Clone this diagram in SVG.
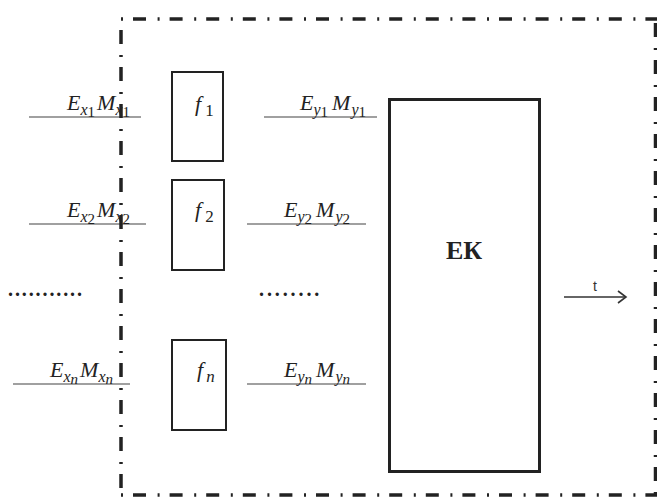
<svg xmlns="http://www.w3.org/2000/svg" width="657" height="497" viewBox="0 0 657 497">
<defs>
<style>
.lbl{font-family:"Liberation Serif","Times New Roman",serif;font-style:italic;font-size:22px;fill:#222}
.s{font-size:16px}
.ss{font-size:15px}
.d{font-style:normal}
.line{stroke:#808080;stroke-width:1.5;fill:none}
.box{fill:#fff;stroke:#222;stroke-width:2}
.frameh{stroke:#222;stroke-width:3.5;fill:none;stroke-dasharray:2 10 13 11.6}
.framev{stroke:#222;stroke-width:3.5;fill:none;stroke-dasharray:14 11 2 10}
.dots{font-family:"Liberation Serif",serif;font-size:20px;fill:#222;font-weight:bold}
</style>
<marker id="arr" markerWidth="12" markerHeight="14" refX="10" refY="7" orient="auto" markerUnits="userSpaceOnUse">
<path d="M2,1 L10,7 L2,13" fill="none" stroke="#333" stroke-width="1.6"/>
</marker>
</defs>
<rect width="657" height="497" fill="#fff"/>
<g id="connectors">
<line class="line" x1="29" y1="117" x2="141" y2="117"/>
<line class="line" x1="264" y1="117" x2="377" y2="117"/>
<line class="line" x1="29" y1="224" x2="146" y2="224"/>
<line class="line" x1="247" y1="224" x2="366" y2="224"/>
<line class="line" x1="13" y1="384" x2="130" y2="384"/>
<line class="line" x1="247" y1="384" x2="366" y2="384"/>
<line x1="564" y1="297" x2="626" y2="297" stroke="#333" stroke-width="1.6" marker-end="url(#arr)"/>
</g>
<g id="labels">
<text class="lbl" x="67" y="110">E<tspan class="s" dy="5">x</tspan><tspan class="ss d" dy="2">1</tspan><tspan dx="2" dy="-7">M</tspan><tspan class="s" dy="5">x</tspan><tspan class="ss d" dy="2">1</tspan></text>
<text class="lbl" x="300" y="110">E<tspan class="s" dy="5">y</tspan><tspan class="ss d" dy="2">1</tspan><tspan dx="4" dy="-7">M</tspan><tspan class="s" dy="5" dx="1">y</tspan><tspan class="ss d" dy="2">1</tspan></text>
<text class="lbl" x="67" y="217">E<tspan class="s" dy="5">x</tspan><tspan class="ss d" dy="2">2</tspan><tspan dx="2" dy="-7">M</tspan><tspan class="s" dy="5">x</tspan><tspan class="ss d" dy="2">2</tspan></text>
<text class="lbl" x="284" y="217">E<tspan class="s" dy="5">y</tspan><tspan class="ss d" dy="2">2</tspan><tspan dx="4" dy="-7">M</tspan><tspan class="s" dy="5" dx="1">y</tspan><tspan class="ss d" dy="2">2</tspan></text>
<text class="lbl" x="50" y="377">E<tspan class="s" dy="5">x</tspan><tspan class="ss" dy="2">n</tspan><tspan dx="2" dy="-7">M</tspan><tspan class="s" dy="5">x</tspan><tspan class="ss" dy="2">n</tspan></text>
<text class="lbl" x="284" y="377">E<tspan class="s" dy="5">y</tspan><tspan class="ss" dy="2">n</tspan><tspan dx="4" dy="-7">M</tspan><tspan class="s" dy="5" dx="1">y</tspan><tspan class="ss" dy="2">n</tspan></text>
<text class="dots" x="8" y="296" letter-spacing="1.9">...........</text>
<text class="dots" x="259" y="296" letter-spacing="2.9">........</text>
<text x="595" y="291" text-anchor="middle" font-family="Liberation Sans, Arial, sans-serif" font-size="14" fill="#333">t</text>
</g>
<g id="f1">
<rect class="box" x="172" y="72" width="51" height="89"/>
<text class="lbl" x="195" y="111" font-size="24">f<tspan class="d" font-size="17" dx="4" dy="5">1</tspan></text>
</g>
<g id="f2">
<rect class="box" x="172" y="180" width="52" height="90"/>
<text class="lbl" x="195" y="217" font-size="24">f<tspan class="d" font-size="17" dx="4" dy="5">2</tspan></text>
</g>
<g id="fn">
<rect class="box" x="172" y="340" width="54" height="90"/>
<text class="lbl" x="197" y="377" font-size="24">f<tspan font-size="17" dx="3" dy="5">n</tspan></text>
</g>
<g id="ek">
<rect x="389.5" y="99.5" width="150" height="372" fill="#fff" stroke="#222" stroke-width="3"/>
<text x="464" y="259" text-anchor="middle" font-family="Liberation Serif, Times New Roman, serif" font-weight="bold" font-size="26" fill="#222">ЕК</text>
</g>
<g id="frame">
<line class="frameh" x1="121" y1="19" x2="657" y2="19"/>
<line class="frameh" x1="121" y1="495" x2="657" y2="495"/>
<line class="framev" x1="121" y1="30" x2="121" y2="497"/>
<line class="framev" x1="655.5" y1="23" x2="655.5" y2="497"/>
</g>
</svg>
